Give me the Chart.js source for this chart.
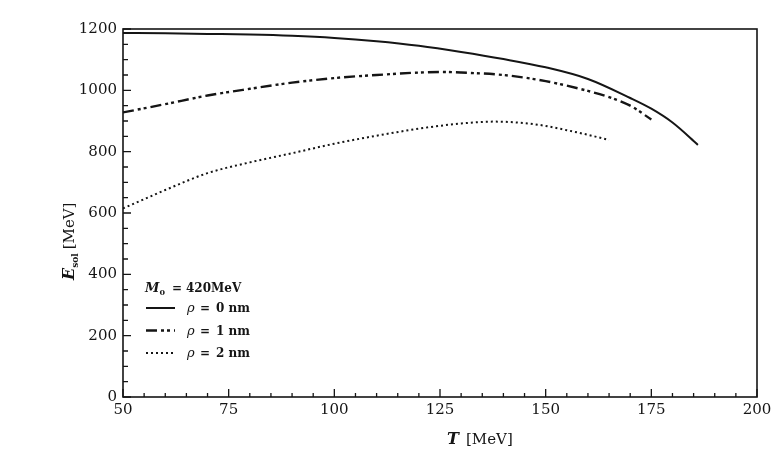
<!DOCTYPE html>
<html>
<head>
<meta charset="utf-8">
<script src="https://cdn.jsdelivr.net/npm/chart.js@4/dist/chart.umd.min.js"></script>
<style>
  html, body { margin: 0; padding: 0; background: #fff; }
  #wrap { width: 783px; height: 454px; }
</style>
</head>
<body>
<div id="wrap"><canvas id="solChart" width="783" height="454"></canvas></div>
<script>
// Temperatures (MeV) and soliton energies (MeV)
const tempRho0 = [50, 60, 70, 80, 90, 100, 110, 120, 130, 140, 150, 160, 170, 175, 180, 185, 186];
const energyRho0 = [1187, 1186, 1184, 1182, 1178, 1171, 1160, 1145, 1125, 1102, 1075, 1037, 975, 940, 895, 835, 822];

const tempRho1 = [50, 60, 70, 80, 90, 100, 110, 120, 125, 130, 140, 150, 160, 165, 170, 175];
const energyRho1 = [928, 955, 983, 1005, 1025, 1040, 1050, 1058, 1060, 1058, 1050, 1030, 998, 978, 950, 905];

const tempRho2 = [50, 55, 60, 70, 80, 90, 100, 110, 120, 130, 138, 145, 150, 155, 160, 165];
const energyRho2 = [615, 645, 675, 730, 765, 795, 826, 852, 875, 892, 898, 893, 884, 870, 855, 838];

const seriesRho = ['0', '1', '2'];
const seriesLabels = seriesRho.map(r => '\u03C1 = ' + r + ' nm');
const xTicks = [50, 75, 100, 125, 150, 175, 200];
const yTicks = [0, 200, 400, 600, 800, 1000, 1200];

const ink = '#151515';
const serif = '"DejaVu Serif", "Liberation Serif", serif';

function toPoints(xs, ys) {
  return xs.map((x, i) => ({ x: x, y: ys[i] }));
}

/**
 * Frame, inward ticks, axis titles and the in-plot legend
 */
const paperPlugin = {
  id: 'paper',
  afterDatasetsDraw(chart) {
    const ctx = chart.ctx;
    const area = chart.chartArea;
    const xs = chart.scales.x;
    const ys = chart.scales.y;

    ctx.save();
    ctx.strokeStyle = ink;
    ctx.lineWidth = 1.6;
    ctx.strokeRect(area.left, area.top, area.right - area.left, area.bottom - area.top);

    ctx.lineWidth = 1.3;
    ctx.beginPath();
    // x ticks every 5, major every 25
    for (let v = 50; v <= 200; v += 5) {
      const px = xs.getPixelForValue(v);
      const len = v % 25 === 0 ? 8 : 4;
      ctx.moveTo(px, area.bottom);
      ctx.lineTo(px, area.bottom - len);
    }
    // y ticks every 50, major every 200
    for (let v = 0; v <= 1200; v += 50) {
      const py = ys.getPixelForValue(v);
      const len = v % 200 === 0 ? 8 : 5;
      ctx.moveTo(area.left, py);
      ctx.lineTo(area.left + len, py);
    }
    ctx.stroke();
    ctx.restore();
  },
  afterDraw(chart) {
    const ctx = chart.ctx;
    const area = chart.chartArea;
    ctx.save();
    ctx.fillStyle = ink;
    ctx.textBaseline = 'alphabetic';

    // x axis title: T [MeV]
    ctx.font = 'italic bold 16px ' + serif;
    ctx.textAlign = 'left';
    ctx.fillText('T', 447, 444);
    ctx.font = '15px ' + serif;
    ctx.fillText('[MeV]', 466, 444);

    // y axis title: E_sol [MeV], rotated
    ctx.translate(74, 238);
    ctx.rotate(-Math.PI / 2);
    ctx.textAlign = 'left';
    let x0 = -42;
    ctx.font = 'italic bold 16px ' + serif;
    ctx.fillText('E', x0, 0);
    x0 += ctx.measureText('E').width;
    ctx.font = 'bold 9px ' + serif;
    ctx.fillText('sol', x0, 4);
    x0 += ctx.measureText('sol').width + 4;
    ctx.font = '15px ' + serif;
    ctx.fillText('[MeV]', x0, 0);
    ctx.setTransform(1, 0, 0, 1, 0, 0);

    // legend inside plot area
    const lx = area.left + 23;
    ctx.font = 'italic bold 13px ' + serif;
    ctx.fillText('M', lx - 1, 292);
    let mx = lx - 1 + ctx.measureText('M').width;
    ctx.font = 'bold 8px ' + serif;
    ctx.fillText('0', mx, 295);
    ctx.font = 'bold 12px ' + serif;
    ctx.fillText('=', 172, 292);
    ctx.fillText('420MeV', 186, 292);

    chart.data.datasets.forEach((ds, i) => {
      const y = 308 + i * 22.5;
      ctx.save();
      ctx.strokeStyle = ds.borderColor;
      ctx.lineWidth = ds.borderWidth;
      ctx.setLineDash(ds.borderDash || []);
      ctx.beginPath();
      ctx.moveTo(lx, y);
      ctx.lineTo(lx + 29, y);
      ctx.stroke();
      ctx.restore();
      ctx.font = 'italic 13px ' + serif;
      ctx.fillText('\u03C1', 187, y + 4);
      ctx.font = 'bold 12px ' + serif;
      ctx.fillText('=', 200, y + 4);
      ctx.fillText(seriesRho[i] + ' nm', 216, y + 4);
    });
    ctx.restore();
  }
};

function initSolChart() {
  const canvas = document.getElementById('solChart');
  return new Chart(canvas, {
    type: 'line',
    data: {
      datasets: [{
        label: seriesLabels[0],
        data: toPoints(tempRho0, energyRho0),
        borderColor: ink,
        borderWidth: 2,
        borderDash: []
      }, {
        label: seriesLabels[1],
        data: toPoints(tempRho1, energyRho1),
        borderColor: ink,
        borderWidth: 2.4,
        borderDash: [11, 4, 3, 3, 3, 4]
      }, {
        label: seriesLabels[2],
        data: toPoints(tempRho2, energyRho2),
        borderColor: ink,
        borderWidth: 2,
        borderDash: [2, 3]
      }]
    },
    options: {
      responsive: false,
      animation: false,
      devicePixelRatio: 1,
      layout: {
        padding: { left: 0, right: 26, top: 29, bottom: 0 }
      },
      elements: {
        point: { radius: 0 },
        line: { cubicInterpolationMode: 'monotone', fill: false }
      },
      plugins: {
        legend: { display: false },
        tooltip: { enabled: false }
      },
      scales: {
        x: {
          type: 'linear',
          min: 50,
          max: 200,
          afterBuildTicks: scale => {
            scale.ticks = xTicks.map(v => ({ value: v }));
          },
          afterFit: scale => { scale.height = 57; },
          grid: { display: false, drawTicks: false },
          border: { display: false },
          ticks: {
            color: ink,
            padding: 4,
            maxRotation: 0,
            callback: value => String(value),
            font: { family: serif, size: 15 }
          }
        },
        y: {
          type: 'linear',
          min: 0,
          max: 1200,
          afterBuildTicks: scale => {
            scale.ticks = yTicks.map(v => ({ value: v }));
          },
          afterFit: scale => { scale.width = 123; },
          grid: { display: false, drawTicks: false },
          border: { display: false },
          ticks: {
            color: ink,
            padding: 6,
            callback: value => String(value),
            font: { family: serif, size: 15 }
          }
        }
      }
    },
    plugins: [paperPlugin]
  });
}

document.addEventListener('DOMContentLoaded', () => {
  initSolChart();
});
</script>
</body>
</html>
